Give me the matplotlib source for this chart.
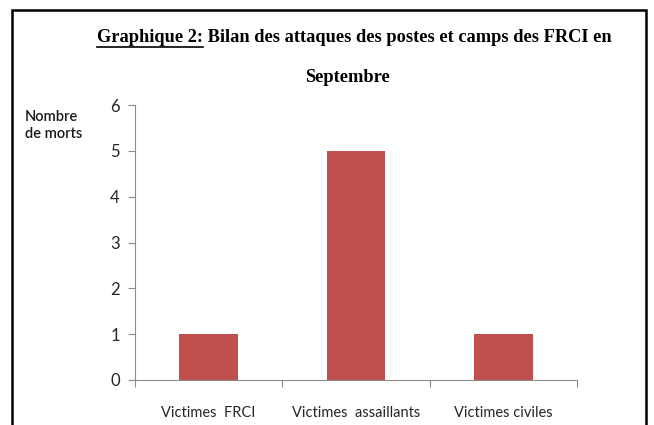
import matplotlib.pyplot as plt
from matplotlib.patches import Rectangle
from matplotlib.lines import Line2D

categories = ["Victimes  FRCI", "Victimes  assaillants", "Victimes civiles"]
morts = [1, 5, 1]
yticks = [0, 1, 2, 3, 4, 5, 6]

W, H = 654, 425
fig = plt.figure(figsize=(W / 100, H / 100), dpi=100)
fig.patch.set_facecolor("white")

# axes area in pixels: x 135..577, y 105..380 (from top)
ax = fig.add_axes([135 / W, 1 - 380 / H, (577 - 135) / W, (380 - 105) / H])
x = list(range(len(categories)))
ax.bar(x, morts, width=0.4, color="#C0504D")
ax.set_xlim(-0.5, len(categories) - 0.5)
ax.set_ylim(0, 6)
ax.set_yticks(yticks)
ax.set_yticklabels([str(v) for v in yticks])
ax.set_xticks([i - 0.5 for i in range(len(categories) + 1)], minor=False)
ax.set_xticklabels([""] * (len(categories) + 1))
ax.set_xticks(x, minor=True)
ax.set_xticklabels(categories, minor=True)

font = ["Lato", "DejaVu Sans"]
for s in ["top", "right"]:
    ax.spines[s].set_visible(False)
for s in ["left", "bottom"]:
    ax.spines[s].set_color("#8c8c8c")
    ax.spines[s].set_linewidth(0.8)
ax.tick_params(axis="y", which="major", length=5, color="#8c8c8c", labelsize=12, pad=6)
ax.tick_params(axis="x", which="major", length=5, color="#8c8c8c")
ax.tick_params(axis="x", which="minor", length=0, labelsize=10.5, pad=19)
for t in ax.get_yticklabels() + ax.get_xticklabels(minor=True):
    t.set_family(font)
    t.set_color("#262626")

fig.text(25 / W, 1 - 110 / H, "Nombre\nde morts", ha="left", va="top",
         fontsize=10.5, family=font, fontweight="semibold", color="#1a1a1a", linespacing=1.3)

# title with underlined first part
tfont = dict(family="Liberation Serif", fontweight="bold", fontsize=13.2, color="black")
renderer = fig.canvas.get_renderer()
part1 = fig.text(97 / W, 1 - 37 / H, "Graphique 2:", ha="left", va="center", **tfont)
bb1 = part1.get_window_extent(renderer)
fig.text(bb1.x1 / W, 1 - 37 / H, " Bilan des attaques des postes et camps des FRCI en",
         ha="left", va="center", **tfont)
fig.add_artist(Line2D([bb1.x0 / W, bb1.x1 / W], [(bb1.y0 - 1) / H] * 2,
                      color="black", lw=1.2, transform=fig.transFigure))
fig.text(347 / W, 1 - 77 / H, "Septembre", ha="center", va="center", **tfont)

# outer frame
fig.add_artist(Rectangle((12 / W, -0.05), (646 - 12) / W, 1.05 - 10 / H,
                         transform=fig.transFigure, fill=False, ec="black", lw=1.8))

fig.savefig("out.png", dpi=100)
